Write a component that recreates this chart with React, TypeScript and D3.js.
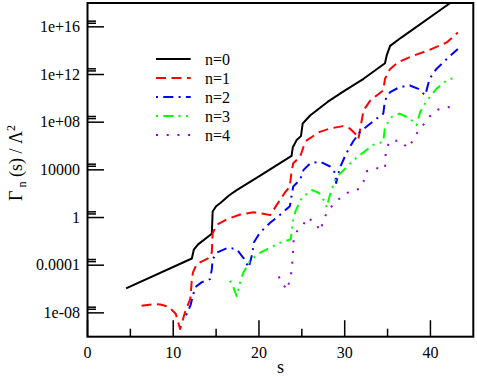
import * as d3 from 'd3';

// --- data: [s, log10(Gamma_n / Lambda^2)] ---
const n0: [number, number][] = [
  [4.5, -5.94], [12.17, -3.44], [12.4, -2.7], [12.9, -2.25], [14.5, -1.36],
  [14.6, 0.5], [15.0, 0.95], [15.5, 1.22], [16.5, 1.85], [17.4, 2.3], [20, 3.45],
  [23.8, 5.17], [23.95, 5.9], [24.4, 6.5], [24.9, 6.83], [25.1, 7.89],
  [26.0, 8.58], [28, 9.7], [30, 10.65], [32.2, 11.64], [34.7, 12.94],
  [34.9, 13.6], [35.3, 14.4], [36.6, 15.1], [42.1, 17.9], [43.5, 18.5],
];
const n1: [number, number][] = [
  [6.3, -7.4], [7.8, -7.27], [8.5, -7.3], [9.5, -7.5], [10.3, -8.1],
  [10.8, -9.35], [11.4, -7.9], [12.0, -6.8], [12.15, -5.4], [12.3, -4.6],
  [12.75, -3.9], [14.3, -3.35], [14.5, -2.9], [14.6, -1.3], [15.1, -0.6],
  [16.25, -0.15], [17.8, 0.25], [19.35, 0.44], [20.5, 0.31], [21.3, 0.2],
  [22.1, 1.08], [23.0, 2.06], [23.6, 2.6], [23.8, 3.86], [24.0, 4.56],
  [24.8, 5.1], [25.2, 5.94], [25.6, 6.5], [27.1, 7.19], [28.3, 7.47],
  [29.8, 7.67], [30.6, 7.47], [31.4, 6.92], [31.6, 6.6], [32.2, 9.0],
  [33.0, 9.83], [34.5, 10.67], [34.7, 11.64], [35.3, 12.47], [36.25, 13.03],
  [38.0, 13.58], [39.9, 14.06], [41.9, 14.69], [43.2, 15.53],
];
const n2: [number, number][] = [
  [11.5, -8.2], [12.0, -7.4], [12.3, -6.56], [12.55, -5.86], [13.3, -5.44],
  [14.3, -5.17], [14.5, -4.33], [14.6, -3.5], [15.1, -2.94], [16.4, -2.53],
  [17.4, -2.67], [18.2, -3.4], [18.8, -4.2], [19.2, -3.1], [19.4, -2.1],
  [20.1, -1.28], [21.3, -0.44], [22.5, 0.25], [23.6, 0.94], [23.8, 1.78],
  [24.0, 2.61], [24.8, 3.17], [25.2, 4.0], [26.0, 4.56], [27.1, 4.69],
  [28.3, 4.28], [28.9, 3.72], [29.0, 2.9], [29.45, 4.2], [30.2, 5.4],
  [31.0, 6.4], [31.8, 7.19], [33.0, 7.89], [34.5, 8.72], [34.7, 9.83],
  [35.3, 10.53], [36.4, 10.94], [37.6, 11.08], [38.6, 10.8], [39.4, 10.25],
  [39.9, 11.64], [40.7, 12.47], [41.9, 13.3], [43.2, 14.14],
];
const n3: [number, number][] = [
  [16.6, -5.3], [17.0, -5.8], [17.4, -6.6], [17.8, -5.44], [18.2, -4.6],
  [18.9, -3.7], [19.8, -3.08], [21.3, -2.53], [22.5, -2.11], [23.7, -1.83],
  [23.85, -1.0], [24.0, -0.17], [24.3, 0.6], [25.0, 1.64], [25.2, 1.78],
  [26.2, 2.3], [27.0, 2.06], [27.7, 1.3], [27.9, 0.85], [28.2, 1.7],
  [28.6, 2.6], [29.1, 3.44], [30.2, 4.2], [31.0, 4.8], [31.8, 5.25],
  [33.3, 6.08], [34.5, 6.36], [34.7, 7.61], [35.5, 8.44], [36.4, 8.72],
  [37.6, 8.31], [38.4, 7.75], [38.8, 8.86], [39.6, 9.83], [40.7, 10.8],
  [41.9, 11.5], [42.9, 11.78],
];
const n4: [number, number][] = [
  [22.3, -4.94], [22.9, -5.7], [23.3, -6.07], [23.6, -5.17], [23.85, -4.39],
  [23.9, -3.5], [24.0, -2.67], [24.05, -1.83], [24.45, -1.14], [25.2, -0.58],
  [25.6, 0.0], [26.55, -0.42], [27.15, -1.14], [27.5, -0.25], [28.0, 0.53],
  [28.8, 1.2], [29.7, 1.78], [30.6, 2.19], [31.75, 2.42], [32.2, 3.03],
  [32.5, 3.86], [33.55, 4.14], [34.7, 4.1], [34.75, 4.9], [34.8, 5.7],
  [35.3, 6.44], [36.5, 6.44], [37.35, 5.83], [38.0, 6.5], [38.55, 7.25],
  [39.3, 7.89], [40.0, 8.55], [40.9, 9.06], [42.05, 9.28], [43.2, 9.0],
];

const seriesNames = ["n=0", "n=1", "n=2", "n=3", "n=4"];
const seriesData = [n0, n1, n2, n3, n4];

const xTicks = [0, 10, 20, 30, 40];
const xMinorTicks = [5, 15, 25, 35];
const yTicks = [1e-8, 1e-4, 1, 1e4, 1e8, 1e12, 1e16];
const yTickLabels = ["1e-08", "0.0001", "1", "10000", "1e+08", "1e+12", "1e+16"];

const colors = ["#000000", "#ff0000", "#0000ff", "#00ff00", "#9400d3"];
const dashes = ["none", "10,5.5", "2,5.3,10,5.3", "2,5.3,10,5.3,2,5.3", "2,8.7"];

const width = 477;
const height = 377;
const left = 87.5, right = 473.3, top = 3, bottom = 336.7;

const x = d3.scaleLinear().domain([0, 45]).range([left, right]);
const y = d3.scaleLog().domain([1e-10, 1e18]).range([bottom, top]);

const line = d3.line<[number, number]>()
  .x(d => x(d[0]))
  .y(d => y(Math.pow(10, d[1])));

const textStyle = { fontFamily: "Liberation Serif" };

export default function App() {
  return (
    <svg width={width} height={height} style={{ position: "absolute", left: 0, top: 0, background: "#fff" }}>
      <defs>
        <clipPath id="plot-clip">
          <rect x={left} y={top} width={right - left} height={bottom - top} />
        </clipPath>
      </defs>

      {/* curves */}
      <g clipPath="url(#plot-clip)">
        {seriesData.map((d, i) => (
          <path key={i} d={line(d) ?? ""} fill="none" stroke={colors[i]} strokeWidth={2}
            strokeDasharray={dashes[i]} strokeLinejoin="round" />
        ))}
      </g>

      {/* frame */}
      <rect x={left} y={top} width={right - left} height={bottom - top} fill="none" stroke="#000" strokeWidth={2} />

      {/* ticks, pointing inward */}
      <g stroke="#000" strokeWidth={1.5}>
        {xTicks.map(t => <line key={"xM" + t} x1={x(t)} x2={x(t)} y1={bottom} y2={bottom - 16.5} />)}
        {xMinorTicks.map(t => <line key={"xm" + t} x1={x(t)} x2={x(t)} y1={bottom} y2={bottom - 8} />)}
        {yTicks.map(t => (
          <g key={"y" + t}>
            <line x1={left} x2={left + 16.5} y1={y(t)} y2={y(t)} />
            {[2, 3].map(m => <line key={m} x1={left} x2={left + 8.5} y1={y(t * m)} y2={y(t * m)} />)}
          </g>
        ))}
      </g>

      {/* tick labels */}
      <g style={textStyle} fontSize={16} fill="#000">
        {xTicks.map(t => (
          <text key={"xl" + t} x={x(t)} y={358} textAnchor="middle" style={textStyle}>{t}</text>
        ))}
        {yTicks.map((t, i) => (
          <text key={"yl" + t} x={80} y={y(t)} dy="0.33em" textAnchor="end" style={textStyle}>{yTickLabels[i]}</text>
        ))}
      </g>

      {/* axis titles */}
      <text x={(left + right) / 2} y={373} textAnchor="middle" fontSize={18} style={textStyle}>s</text>
      <text transform="translate(22,163) rotate(-90)" textAnchor="middle" fontSize={18} style={textStyle}>
        <tspan>Γ</tspan>
        <tspan fontSize={12} dy={4}> n</tspan>
        <tspan dy={-4}> (s) / Λ</tspan>
        <tspan fontSize={12} dy={-7}>2</tspan>
      </text>

      {/* legend */}
      <g>
        {seriesNames.map((name, i) => {
          const ly = 59 + i * 19;
          return (
            <g key={name}>
              <line x1={156} x2={190.7} y1={ly} y2={ly} stroke={colors[i]} strokeWidth={2} strokeDasharray={dashes[i]} />
              <text x={205} y={ly + 5.5} fontSize={16} style={textStyle}>{name}</text>
            </g>
          );
        })}
      </g>
    </svg>
  );
}
